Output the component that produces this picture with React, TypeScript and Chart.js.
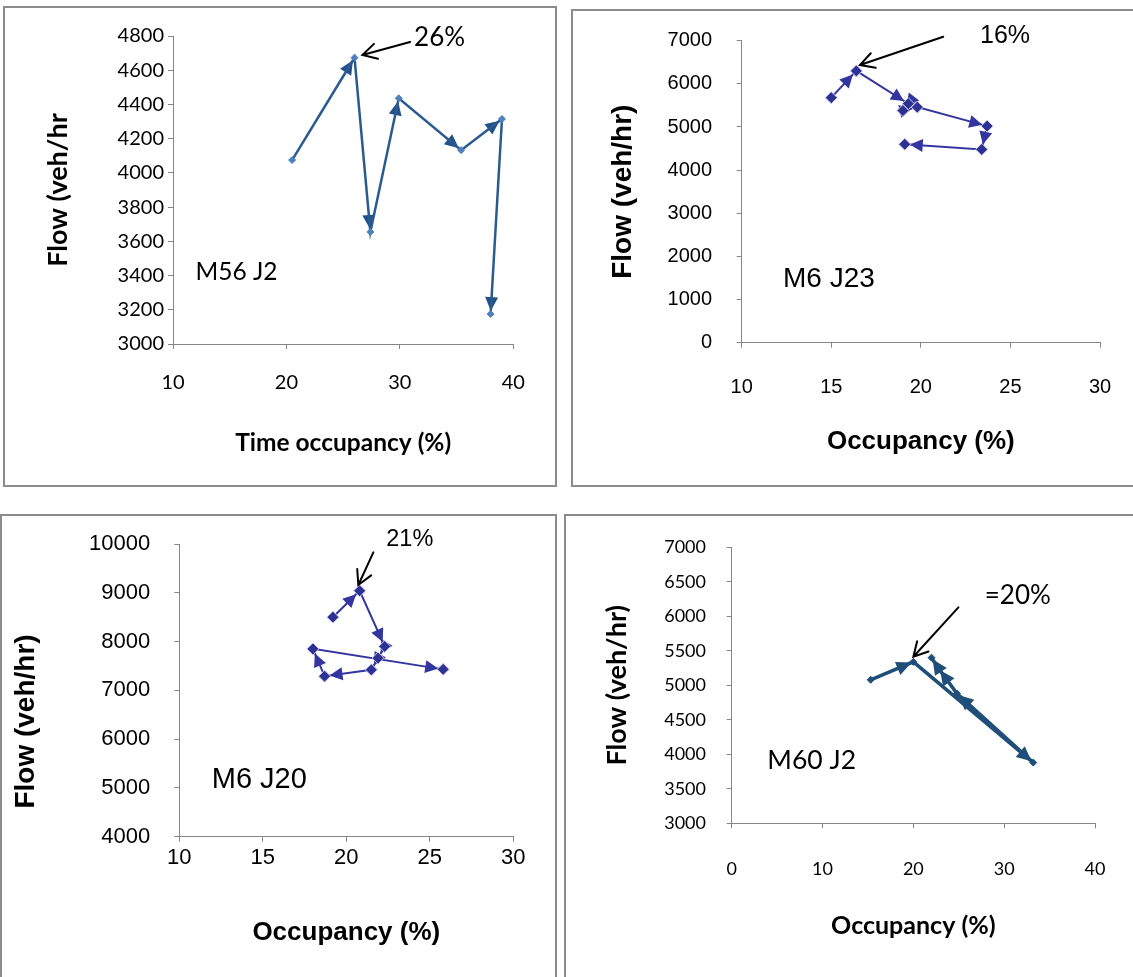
import React, { useEffect, useRef } from "react";
import { Chart, registerables } from "chart.js";
Chart.register(...registerables);

// ---------- Panel 1: M56 J2 ----------
const m56Occupancy = [20.5, 26.0, 27.4, 29.9, 35.4, 39.0, 38.0];
const m56Flow = [4075, 4673, 3655, 4436, 4133, 4315, 3175];
const m56OccTicks = [10, 20, 30, 40];
const m56FlowTicks = [3000, 3200, 3400, 3600, 3800, 4000, 4200, 4400, 4600, 4800];

// ---------- Panel 2: M6 J23 ----------
const m6j23Occupancy = [15.0, 16.4, 19.3, 19.0, 19.8, 23.7, 23.4, 19.1];
const m6j23Flow = [5680, 6300, 5540, 5380, 5460, 5020, 4480, 4600];
const m6j23OccTicks = [10, 15, 20, 25, 30];
const m6j23FlowTicks = [0, 1000, 2000, 3000, 4000, 5000, 6000, 7000];

// ---------- Panel 3: M6 J20 ----------
const m6j20Occupancy = [19.2, 20.8, 22.3, 21.9, 21.5, 18.7, 18.0, 25.8];
const m6j20Flow = [8500, 9040, 7900, 7660, 7420, 7290, 7850, 7430];
const m6j20OccTicks = [10, 15, 20, 25, 30];
const m6j20FlowTicks = [4000, 5000, 6000, 7000, 8000, 9000, 10000];

// ---------- Panel 4: M60 J2 ----------
const m60Occupancy = [15.3, 20.0, 33.2, 24.8, 22.8, 22.0];
const m60Flow = [5080, 5340, 3880, 4880, 5240, 5400];
const m60OccTicks = [0, 10, 20, 30, 40];
const m60FlowTicks = [3000, 3500, 4000, 4500, 5000, 5500, 6000, 6500, 7000];

const CAL = "Lato, 'Open Sans', sans-serif";
const ARI = "'Liberation Sans', Arial, sans-serif";

type Panel = {
  frame: [number, number, number, number];
  canvas: [number, number, number, number];
  padTop: number;
  padRight: number;
  yWidth: number;
  xHeight: number;
  xs: number[];
  ys: number[];
  xMin: number; xMax: number; xTicks: number[];
  yMin: number; yMax: number; yTicks: number[];
  xTitle: string; yTitle: string;
  family: string;
  xTitleSize: number; yTitleSize: number; tickSize: number;
  xTickPad: number; yTickPad: number;
  xTitlePad: number; yTitlePad: number;
  lineColor: string; lineWidth: number;
  pointColor: string; pointBorder: string; pointRadius: number;
  arrow: { length: number; width: number; setback: number; color: string };
  texts: { text: string; x: number; y: number; size: number }[];
  callout: { from: [number, number]; to: [number, number] };
};

const panels: Panel[] = [
  {
    frame: [3, 6, 554, 481],
    canvas: [3, 6, 553, 480],
    padTop: 30, padRight: 42.7, yWidth: 170, xHeight: 142,
    xs: m56Occupancy, ys: m56Flow,
    xMin: 10, xMax: 40, xTicks: m56OccTicks,
    yMin: 3000, yMax: 4800, yTicks: m56FlowTicks,
    xTitle: "Time occupancy (%)", yTitle: "Flow (veh/hr",
    family: CAL, xTitleSize: 24.5, yTitleSize: 27, tickSize: 20,
    xTickPad: 22, yTickPad: 4, xTitlePad: 28.3, yTitlePad: 38.8,
    lineColor: "#2A5A90", lineWidth: 2.5,
    pointColor: "#4F81BD", pointBorder: "#4F81BD", pointRadius: 3.5,
    arrow: { length: 14, width: 13, setback: 3, color: "#22518A" },
    texts: [
      { text: "M56 J2", x: 15.6, y: 3420, size: 24.5 },
      { text: "26%", x: 33.5, y: 4788, size: 26 },
    ],
    callout: { from: [30.9, 4765], to: [26.7, 4689] },
  },
  {
    frame: [571, 9, 600, 478],
    canvas: [572, 10, 561, 476],
    padTop: 30.7, padRight: 33, yWidth: 169.7, xHeight: 143.3,
    xs: m6j23Occupancy, ys: m6j23Flow,
    xMin: 10, xMax: 30, xTicks: m6j23OccTicks,
    yMin: 0, yMax: 7000, yTicks: m6j23FlowTicks,
    xTitle: "Occupancy (%)", yTitle: "Flow (veh/hr)",
    family: ARI, xTitleSize: 26, yTitleSize: 28, tickSize: 20,
    xTickPad: 28, yTickPad: 24.7, xTitlePad: 28.4, yTitlePad: 34.2,
    lineColor: "#3535A0", lineWidth: 2,
    pointColor: "#2E3192", pointBorder: "#C8CEF0", pointRadius: 6,
    arrow: { length: 13, width: 13, setback: 5, color: "#3535A0" },
    texts: [
      { text: "M6 J23", x: 14.87, y: 1464, size: 28 },
      { text: "16%", x: 24.7, y: 7109, size: 25 },
    ],
    callout: { from: [21.25, 7093], to: [16.6, 6436] },
  },
  {
    frame: [0, 514, 557, 500],
    canvas: [0, 514, 556, 463],
    padTop: 30, padRight: 42.7, yWidth: 179.3, xHeight: 140.3,
    xs: m6j20Occupancy, ys: m6j20Flow,
    xMin: 10, xMax: 30, xTicks: m6j20OccTicks,
    yMin: 4000, yMax: 10000, yTicks: m6j20FlowTicks,
    xTitle: "Occupancy (%)", yTitle: "Flow (veh/hr)        ",
    family: ARI, xTitleSize: 26, yTitleSize: 28, tickSize: 22,
    xTickPad: 3, yTickPad: 24, xTitlePad: 28.4, yTitlePad: 9.2,
    lineColor: "#3535A0", lineWidth: 2,
    pointColor: "#2E3192", pointBorder: "#C8CEF0", pointRadius: 6,
    arrow: { length: 13, width: 13, setback: 5, color: "#3535A0" },
    texts: [
      { text: "M6 J20", x: 14.79, y: 5164, size: 29 },
      { text: "21%", x: 23.8, y: 10082, size: 23.5 },
    ],
    callout: { from: [21.62, 9830], to: [20.72, 9160] },
  },
  {
    frame: [564, 514, 600, 500],
    canvas: [565, 514, 568, 463],
    padTop: 33.3, padRight: 38, yWidth: 166.7, xHeight: 153.7,
    xs: m60Occupancy, ys: m60Flow,
    xMin: 0, xMax: 40, xTicks: m60OccTicks,
    yMin: 3000, yMax: 7000, yTicks: m60FlowTicks,
    xTitle: "Occupancy (%)", yTitle: "Flow (veh/hr)",
    family: CAL, xTitleSize: 25, yTitleSize: 27, tickSize: 18,
    xTickPad: 30, yTickPad: 20.7, xTitlePad: 36, yTitlePad: 35.8,
    lineColor: "#1F4E79", lineWidth: 3.5,
    pointColor: "#1F4E79", pointBorder: "#1F4E79", pointRadius: 3.5,
    arrow: { length: 15, width: 14, setback: 2, color: "#1F4E79" },
    texts: [
      { text: "M60 J2", x: 8.81, y: 3907, size: 26.5 },
      { text: "=20%", x: 31.5, y: 6294, size: 26 },
    ],
    callout: { from: [24.96, 6130], to: [20.0, 5414] },
  },
];

function makePlugins(p: Panel) {
  const arrowHeads = {
    id: "arrowHeads",
    beforeDatasetsDraw(chart: any) {
      const ctx = chart.ctx;
      const pts = chart.getDatasetMeta(0).data;
      ctx.save();
      ctx.fillStyle = p.arrow.color;
      for (let i = 1; i < pts.length; i++) {
        const a = pts[i - 1];
        const b = pts[i];
        const ang = Math.atan2(b.y - a.y, b.x - a.x);
        const c = Math.cos(ang);
        const s = Math.sin(ang);
        const tx = b.x - p.arrow.setback * c;
        const ty = b.y - p.arrow.setback * s;
        const bx = tx - p.arrow.length * c;
        const by = ty - p.arrow.length * s;
        const hw = p.arrow.width / 2;
        ctx.beginPath();
        ctx.moveTo(tx, ty);
        ctx.lineTo(bx - hw * s, by + hw * c);
        ctx.lineTo(bx + hw * s, by - hw * c);
        ctx.closePath();
        ctx.fill();
      }
      ctx.restore();
    },
  };
  const notes = {
    id: "notes",
    afterDraw(chart: any) {
      const ctx = chart.ctx;
      const xs = chart.scales.x;
      const ys = chart.scales.y;
      ctx.save();
      ctx.fillStyle = "#000";
      ctx.textAlign = "center";
      ctx.textBaseline = "middle";
      for (const t of p.texts) {
        ctx.font = `${t.size}px ${p.family}`;
        ctx.fillText(t.text, xs.getPixelForValue(t.x), ys.getPixelForValue(t.y));
      }
      const fx = xs.getPixelForValue(p.callout.from[0]);
      const fy = ys.getPixelForValue(p.callout.from[1]);
      const tx = xs.getPixelForValue(p.callout.to[0]);
      const ty = ys.getPixelForValue(p.callout.to[1]);
      const ang = Math.atan2(ty - fy, tx - fx);
      const hl = 16;
      ctx.strokeStyle = "#000";
      ctx.lineWidth = 2;
      ctx.lineCap = "round";
      ctx.beginPath();
      ctx.moveTo(fx, fy);
      ctx.lineTo(tx, ty);
      ctx.moveTo(tx - hl * Math.cos(ang - 0.5), ty - hl * Math.sin(ang - 0.5));
      ctx.lineTo(tx, ty);
      ctx.lineTo(tx - hl * Math.cos(ang + 0.5), ty - hl * Math.sin(ang + 0.5));
      ctx.stroke();
      ctx.restore();
    },
  };
  return [arrowHeads, notes];
}

function ChartPanel({ p }: { p: Panel }) {
  const ref = useRef<HTMLCanvasElement>(null);
  useEffect(() => {
    const axisGrid = {
      display: true,
      drawOnChartArea: false,
      drawTicks: true,
      tickLength: 5,
      color: "#868686",
    };
    const chart = new Chart(ref.current as HTMLCanvasElement, {
      type: "scatter",
      data: {
        datasets: [
          {
            data: p.xs.map((x, i) => ({ x, y: p.ys[i] })),
            showLine: true,
            tension: 0,
            borderColor: p.lineColor,
            borderWidth: p.lineWidth,
            pointStyle: "rectRot",
            pointRadius: p.pointRadius,
            pointBackgroundColor: p.pointColor,
            pointBorderColor: p.pointBorder,
            pointBorderWidth: 1,
          },
        ],
      },
      options: {
        animation: false,
        responsive: false,
        maintainAspectRatio: false,
        devicePixelRatio: 1,
        layout: { padding: { left: 0, top: p.padTop, right: p.padRight, bottom: 0 } },
        plugins: { legend: { display: false }, tooltip: { enabled: false } },
        scales: {
          x: {
            type: "linear",
            min: p.xMin,
            max: p.xMax,
            afterBuildTicks: (s: any) => {
              s.ticks = p.xTicks.map((v) => ({ value: v }));
            },
            afterFit: (s: any) => {
              s.height = p.xHeight;
              s.paddingLeft = 0;
              s.paddingRight = 0;
            },
            grid: axisGrid,
            border: { display: true, color: "#868686", width: 1 },
            ticks: {
              color: "#000",
              font: { family: p.family, size: p.tickSize },
              padding: p.xTickPad,
              maxRotation: 0,
              callback: (v: any) => String(v),
            },
            title: {
              display: true,
              text: p.xTitle,
              color: "#000",
              font: { family: p.family, size: p.xTitleSize, weight: "bold" },
              padding: { top: 0, bottom: p.xTitlePad },
            },
          },
          y: {
            type: "linear",
            min: p.yMin,
            max: p.yMax,
            afterBuildTicks: (s: any) => {
              s.ticks = p.yTicks.map((v) => ({ value: v }));
            },
            afterFit: (s: any) => {
              s.width = p.yWidth;
              s.paddingTop = 0;
              s.paddingBottom = 0;
            },
            grid: axisGrid,
            border: { display: true, color: "#868686", width: 1 },
            ticks: {
              color: "#000",
              font: { family: p.family, size: p.tickSize },
              padding: p.yTickPad,
              callback: (v: any) => String(v),
            },
            title: {
              display: true,
              text: p.yTitle,
              color: "#000",
              font: { family: p.family, size: p.yTitleSize, weight: "bold" },
              padding: { top: p.yTitlePad, bottom: 0 },
            },
          },
        },
      } as any,
      plugins: makePlugins(p) as any,
    });
    return () => chart.destroy();
  }, [p]);
  const [fl, ft, fw, fh] = p.frame;
  const [cl, ct, cw, ch] = p.canvas;
  return (
    <>
      <div
        style={{
          position: "absolute",
          left: fl,
          top: ft,
          width: fw,
          height: fh,
          border: "2px solid #8c8c8c",
          boxSizing: "border-box",
        }}
      />
      <canvas
        ref={ref}
        width={cw}
        height={ch}
        style={{ position: "absolute", left: cl, top: ct, width: cw, height: ch }}
      />
    </>
  );
}

export default function App() {
  return (
    <div
      style={{
        position: "absolute",
        left: 0,
        top: 0,
        width: 1133,
        height: 977,
        overflow: "hidden",
        background: "#fff",
      }}
    >
      {panels.map((p, i) => (
        <ChartPanel key={i} p={p} />
      ))}
    </div>
  );
}
